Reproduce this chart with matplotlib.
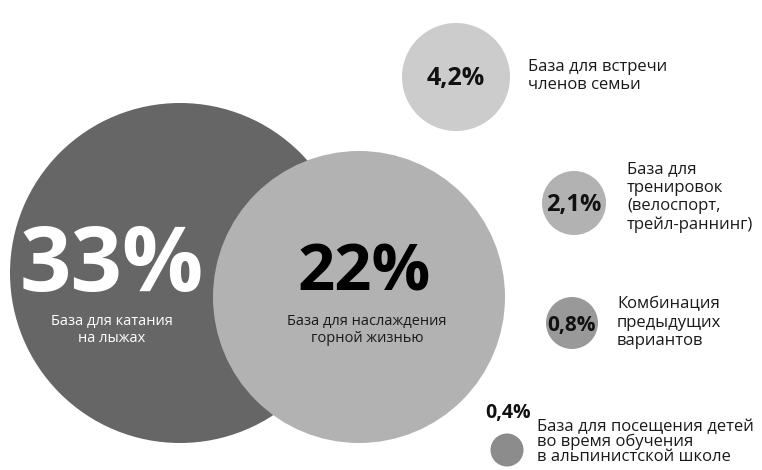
import matplotlib
matplotlib.use("Agg")
import matplotlib.pyplot as plt
from matplotlib.patches import Circle

plt.rcParams["font.family"] = ["Open Sans", "DejaVu Sans"]

# shares of respondents, %
shares = [33, 22, 4.2, 2.1, 0.8, 0.4]
purposes = [
    "База для катания\nна лыжах",
    "База для наслаждения\nгорной жизнью",
    "База для встречи\nчленов семьи",
    "База для\nтренировок\n(велоспорт,\nтрейл-раннинг)",
    "Комбинация\nпредыдущих\nвариантов",
    "База для посещения детей\nво время обучения\nв альпинистской школе",
]

# layout (pixel coords, y down): circle centre, radius, fill colour
centers = [(180, 273), (359, 297), (456, 77), (574, 203), (572, 323), (507, 450)]
radii = [170, 146, 54, 32, 26, 16.5]
fills = ["#666666", "#b2b2b2", "#cccccc", "#b2b2b2", "#999999", "#8c8c8c"]


def pct(v):
    return f"{v:g}".replace(".", ",") + "%"


fig = plt.figure(figsize=(7.62, 4.70), dpi=100)
ax = fig.add_axes([0, 0, 1, 1])
ax.set_xlim(0, 762)
ax.set_ylim(470, 0)
ax.set_aspect("equal")
ax.axis("off")

for (cx, cy), r, c in zip(centers, radii, fills):
    ax.add_patch(Circle((cx, cy), r, color=c, lw=0))

# two big circles: number + caption inside
ax.text(112, 268, pct(shares[0]), color="white", fontsize=65, fontweight="bold",
        ha="center", va="center")
ax.text(112, 330, purposes[0], color="white", fontsize=10.5, ha="center",
        va="center", linespacing=1.15)
ax.text(364, 274, pct(shares[1]), color="black", fontsize=47, fontweight="bold",
        ha="center", va="center")
ax.text(367, 330, purposes[1], color="#1a1a1a", fontsize=10.5, ha="center",
        va="center", linespacing=1.15)

# small circles: number inside, caption to the right
small_size = [18, 17, 15]
label_x = [528, 627, 617]
label_y = [76, 197, 323]
for i, (fs, lx, ly) in enumerate(zip(small_size, label_x, label_y), start=2):
    cx, cy = centers[i]
    ax.text(cx, cy + 2, pct(shares[i]), fontsize=fs, fontweight="bold",
            color="#111111", ha="center", va="center")
    ax.text(lx, ly, purposes[i], fontsize=12, color="#1a1a1a", ha="left",
            va="center", linespacing=1.2)

# smallest one: number above the dot
ax.text(508, 413, pct(shares[5]), fontsize=14, fontweight="bold",
        color="#111111", ha="center", va="center")
ax.text(537, 442, purposes[5], fontsize=12, color="#1a1a1a", ha="left",
        va="center", linespacing=0.92)

fig.savefig("out.png", dpi=100)
plt.close(fig)
